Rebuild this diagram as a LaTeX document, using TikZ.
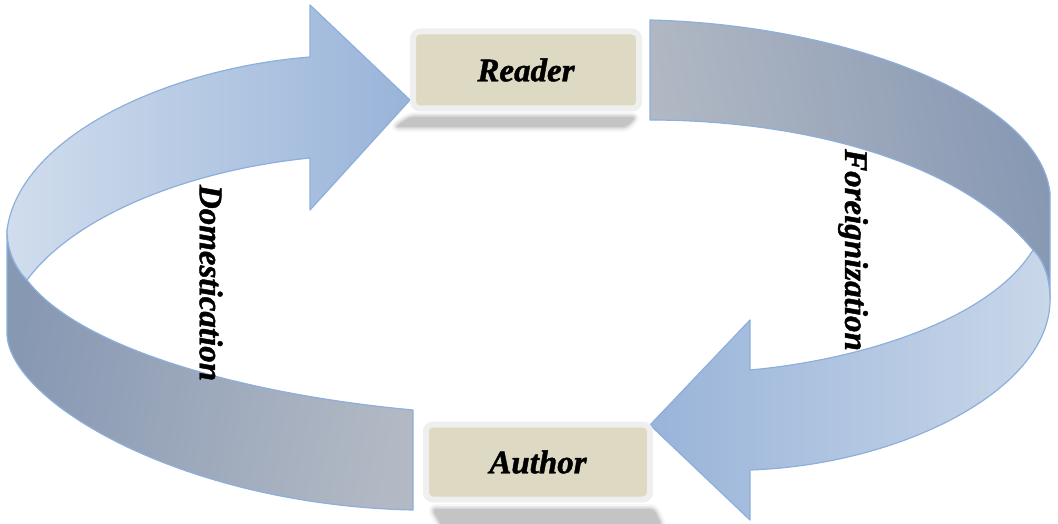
\documentclass[tikz,border=0pt]{standalone}
\usepackage{fontspec}
\setmainfont{Liberation Serif}[BoldItalicFeatures={FakeBold=1.3}]
\definecolor{bandline}{HTML}{8DAFDB}
\definecolor{lightA}{HTML}{D1DDED}
\definecolor{lightB}{HTML}{99B4D9}
\definecolor{lightM}{HTML}{DCE5F0}
\definecolor{lightC}{HTML}{C9D7E9}
\definecolor{darkA}{HTML}{8798B3}
\definecolor{darkB}{HTML}{B2B9C4}
\definecolor{boxfill}{HTML}{DDD9C3}
\definecolor{boxrim}{HTML}{EFEFEF}
\definecolor{shadowgray}{HTML}{C4C4C4}
\begin{document}
\begin{tikzpicture}[x=1pt,y=-1pt,
  band/.style={draw=bandline, line width=1.2pt, line join=round},
  boxnode/.style={rectangle, rounded corners=7pt, fill=boxfill, draw=boxrim, line width=6pt,
    inner sep=0pt, font=\fontsize{33}{38}\selectfont\bfseries\itshape, text=black},
  bandlabel/.style={rotate=-90, inner sep=0pt, font=\fontsize{33}{38}\selectfont\bfseries\itshape, text=black},
  shadowsoft/.style={draw=shadowgray, line join=round, rounded corners=4pt},
  shadowcore/.style={fill=shadowgray, rounded corners=4pt}
]
\useasboundingbox (0,0) rectangle (1058,524);

% ---------- left arrow (Domestication) ----------
\path[band, left color=darkA, right color=darkB, shading angle=80]
  (7,230) -- (7,333)
  .. controls (7,400) and (180,505) .. (413,510)
  -- (413,410)
  .. controls (250,395) and (80,350) .. (27,280)
  .. controls (15,268) and (7,250) .. (7,230) -- cycle;
\path[band, left color=lightA, middle color=lightM, right color=lightB]
  (310,57)
  .. controls (170,68) and (20,135) .. (7,230)
  .. controls (7,250) and (15,268) .. (27,280)
  .. controls (75,215) and (190,170) .. (310,158)
  -- (310,210) -- (410,100) -- (310,5) -- cycle;

% ---------- right arrow (Foreignization) ----------
\path[band, left color=darkB, right color=darkA, shading angle=100]
  (650,20)
  .. controls (850,25) and (1040,100) .. (1050,193)
  -- (1050,300)
  .. controls (1050,280) and (1045,262) .. (1033,250)
  .. controls (960,160) and (800,120) .. (650,120) -- cycle;
\path[band, left color=lightB, middle color=lightM, right color=lightC]
  (1033,250)
  .. controls (990,320) and (860,360) .. (750,370)
  -- (750,320) -- (650,425) -- (750,520) -- (750,470)
  .. controls (900,465) and (1050,390) .. (1050,300)
  .. controls (1050,280) and (1045,262) .. (1033,250) -- cycle;

% ---------- soft shadows ----------
\foreach \w/\o in {10/0.15, 6/0.3, 3/0.5}{
  \path[shadowsoft, line width=\w pt, draw opacity=\o] (410,117) -- (636,117) -- (626,127) -- (395,127) -- cycle;
  \path[shadowsoft, line width=\w pt, draw opacity=\o] (432,509) -- (654,509) -- (662,526) -- (442,526) -- cycle;
}
\path[shadowcore] (410,117) -- (636,117) -- (626,127) -- (395,127) -- cycle;
\path[shadowcore] (432,509) -- (654,509) -- (662,526) -- (442,526) -- cycle;

% ---------- boxes ----------
\node[boxnode, minimum width=226pt, minimum height=77pt] (reader) at (526,70) {Reader};
\node[boxnode, minimum width=224pt, minimum height=75pt] (author) at (538,462) {Author};

% ---------- labels ----------
\node[bandlabel] (dom) at (211,283) {Domestication};
\node[bandlabel] (for) at (853,250) {Foreignization};
\end{tikzpicture}
\end{document}
